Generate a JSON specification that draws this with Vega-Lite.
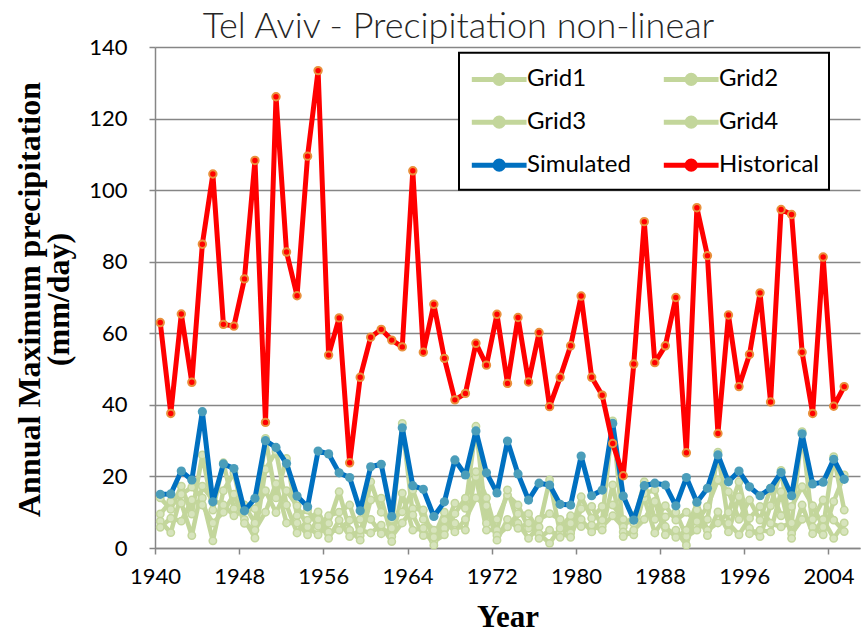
{
  "$schema": "https://vega.github.io/schema/vega-lite/v6.json",
  "autosize": "none",
  "width": 705,
  "height": 501,
  "padding": {"left": 155, "top": 47, "right": 3, "bottom": 85},
  "background": "white",
  "title": {
    "text": "Tel Aviv - Precipitation non-linear",
    "font": "Lato",
    "fontSize": 36,
    "fontWeight": 300,
    "color": "#262626",
    "anchor": "middle",
    "frame": "group",
    "baseline": "alphabetic",
    "offset": 10,
    "dx": -49,
    "dy": 48
  },
  "config": {
    "view": {"stroke": null},
    "axis": {
      "labelFont": "Lato",
      "labelFontSize": 22,
      "labelColor": "#000000",
      "domainColor": "#868686",
      "domainWidth": 1.5,
      "tickColor": "#868686",
      "tickWidth": 1.5,
      "gridColor": "#868686",
      "gridWidth": 1.5,
      "titleFont": "Liberation Serif",
      "titleFontWeight": "bold",
      "titleColor": "#000000"
    }
  },
  "data": {
    "values": [
      {"Year":1940,"Historical":63.0,"Simulated":15.0,"Grid1":14,"Grid2":9.5,"Grid3":7.5,"Grid4":5.8},
      {"Year":1941,"Historical":37.6,"Simulated":15.1,"Grid1":10.8,"Grid2":13,"Grid3":4.3,"Grid4":8.3},
      {"Year":1942,"Historical":65.4,"Simulated":21.5,"Grid1":17.3,"Grid2":12.5,"Grid3":15,"Grid4":7.5},
      {"Year":1943,"Historical":46.3,"Simulated":19.0,"Grid1":9.5,"Grid2":3.5,"Grid3":17,"Grid4":13.4},
      {"Year":1944,"Historical":84.9,"Simulated":38.1,"Grid1":26,"Grid2":17.3,"Grid3":14,"Grid4":12},
      {"Year":1945,"Historical":104.5,"Simulated":12.9,"Grid1":10.6,"Grid2":13.4,"Grid3":2,"Grid4":7},
      {"Year":1946,"Historical":62.5,"Simulated":23.5,"Grid1":23.8,"Grid2":12,"Grid3":16,"Grid4":10},
      {"Year":1947,"Historical":62.0,"Simulated":22.2,"Grid1":11,"Grid2":9,"Grid3":21,"Grid4":15},
      {"Year":1948,"Historical":75.2,"Simulated":10.4,"Grid1":12,"Grid2":10.6,"Grid3":8,"Grid4":6.9},
      {"Year":1949,"Historical":108.3,"Simulated":13.9,"Grid1":7,"Grid2":11,"Grid3":2.8,"Grid4":5},
      {"Year":1950,"Historical":35.1,"Simulated":30.0,"Grid1":30.6,"Grid2":16,"Grid3":22,"Grid4":10},
      {"Year":1951,"Historical":126.1,"Simulated":28.1,"Grid1":14,"Grid2":9.9,"Grid3":27,"Grid4":18},
      {"Year":1952,"Historical":82.7,"Simulated":23.6,"Grid1":25,"Grid2":16,"Grid3":12,"Grid4":7},
      {"Year":1953,"Historical":70.5,"Simulated":14.5,"Grid1":9,"Grid2":11.8,"Grid3":4.2,"Grid4":7},
      {"Year":1954,"Historical":109.5,"Simulated":11.5,"Grid1":10.6,"Grid2":5.9,"Grid3":7.8,"Grid4":3.7},
      {"Year":1955,"Historical":133.4,"Simulated":27.1,"Grid1":6.1,"Grid2":3.7,"Grid3":10.1,"Grid4":8},
      {"Year":1956,"Historical":53.9,"Simulated":26.3,"Grid1":9,"Grid2":6.9,"Grid3":4.5,"Grid4":2.7},
      {"Year":1957,"Historical":64.3,"Simulated":21.0,"Grid1":10,"Grid2":15.7,"Grid3":5,"Grid4":7.8},
      {"Year":1958,"Historical":23.8,"Simulated":19.7,"Grid1":12,"Grid2":5,"Grid3":7.8,"Grid4":3.2},
      {"Year":1959,"Historical":47.7,"Simulated":10.4,"Grid1":3.5,"Grid2":2.2,"Grid3":8,"Grid4":5},
      {"Year":1960,"Historical":58.9,"Simulated":22.7,"Grid1":18.5,"Grid2":13.4,"Grid3":8,"Grid4":4.2},
      {"Year":1961,"Historical":61.1,"Simulated":23.4,"Grid1":10,"Grid2":13.9,"Grid3":4,"Grid4":6.4},
      {"Year":1962,"Historical":58.1,"Simulated":8.8,"Grid1":8,"Grid2":3.2,"Grid3":5.5,"Grid4":1.8},
      {"Year":1963,"Historical":56.2,"Simulated":33.6,"Grid1":10.1,"Grid2":7,"Grid3":34.8,"Grid4":15.3},
      {"Year":1964,"Historical":105.4,"Simulated":17.4,"Grid1":16.2,"Grid2":11,"Grid3":9.2,"Grid4":5},
      {"Year":1965,"Historical":54.7,"Simulated":16.4,"Grid1":8,"Grid2":10.6,"Grid3":3.5,"Grid4":5.5},
      {"Year":1966,"Historical":68.1,"Simulated":8.8,"Grid1":5,"Grid2":1.8,"Grid3":3,"Grid4":0.8},
      {"Year":1967,"Historical":53.0,"Simulated":12.9,"Grid1":5.5,"Grid2":3.7,"Grid3":10,"Grid4":7.8},
      {"Year":1968,"Historical":41.4,"Simulated":24.6,"Grid1":12.5,"Grid2":9.6,"Grid3":6.9,"Grid4":4.5},
      {"Year":1969,"Historical":43.2,"Simulated":20.4,"Grid1":11.1,"Grid2":13.9,"Grid3":5,"Grid4":8},
      {"Year":1970,"Historical":57.2,"Simulated":32.7,"Grid1":34,"Grid2":19.9,"Grid3":21.3,"Grid4":14},
      {"Year":1971,"Historical":51.1,"Simulated":21.0,"Grid1":6.9,"Grid2":5,"Grid3":14,"Grid4":11.8},
      {"Year":1972,"Historical":65.3,"Simulated":15.4,"Grid1":8,"Grid2":5,"Grid3":3.5,"Grid4":2.2},
      {"Year":1973,"Historical":46.0,"Simulated":29.9,"Grid1":14.8,"Grid2":16.2,"Grid3":5.9,"Grid4":8},
      {"Year":1974,"Historical":64.4,"Simulated":20.7,"Grid1":12,"Grid2":6.9,"Grid3":9.6,"Grid4":5.5},
      {"Year":1975,"Historical":46.4,"Simulated":13.4,"Grid1":5.5,"Grid2":2.7,"Grid3":9.6,"Grid4":7},
      {"Year":1976,"Historical":60.2,"Simulated":18.1,"Grid1":8,"Grid2":5.9,"Grid3":4,"Grid4":2.7},
      {"Year":1977,"Historical":39.5,"Simulated":17.6,"Grid1":9.6,"Grid2":19,"Grid3":1.3,"Grid4":5},
      {"Year":1978,"Historical":47.7,"Simulated":12.2,"Grid1":8,"Grid2":4.2,"Grid3":5.5,"Grid4":3},
      {"Year":1979,"Historical":56.5,"Simulated":12.0,"Grid1":4.2,"Grid2":3,"Grid3":9,"Grid4":6.9},
      {"Year":1980,"Historical":70.4,"Simulated":25.7,"Grid1":14.3,"Grid2":11,"Grid3":8,"Grid4":6},
      {"Year":1981,"Historical":47.7,"Simulated":14.6,"Grid1":8.3,"Grid2":11.6,"Grid3":4.5,"Grid4":6.4},
      {"Year":1982,"Historical":42.7,"Simulated":16.2,"Grid1":11.6,"Grid2":6,"Grid3":7.8,"Grid4":5},
      {"Year":1983,"Historical":29.2,"Simulated":34.8,"Grid1":12,"Grid2":9,"Grid3":35.5,"Grid4":17.6},
      {"Year":1984,"Historical":20.2,"Simulated":14.5,"Grid1":8,"Grid2":5.9,"Grid3":4.5,"Grid4":3.2},
      {"Year":1985,"Historical":51.4,"Simulated":7.8,"Grid1":6.9,"Grid2":9,"Grid3":3.7,"Grid4":5},
      {"Year":1986,"Historical":91.2,"Simulated":17.4,"Grid1":18.5,"Grid2":13.9,"Grid3":15.3,"Grid4":8},
      {"Year":1987,"Historical":51.8,"Simulated":18.1,"Grid1":8,"Grid2":4.2,"Grid3":16.2,"Grid4":13},
      {"Year":1988,"Historical":56.5,"Simulated":17.6,"Grid1":11.8,"Grid2":8.7,"Grid3":6,"Grid4":3.7},
      {"Year":1989,"Historical":70.0,"Simulated":11.8,"Grid1":7.8,"Grid2":10,"Grid3":3,"Grid4":5},
      {"Year":1990,"Historical":26.6,"Simulated":19.7,"Grid1":10,"Grid2":3.2,"Grid3":5,"Grid4":0.8},
      {"Year":1991,"Historical":95.1,"Simulated":12.8,"Grid1":7.4,"Grid2":5,"Grid3":12.5,"Grid4":10.6},
      {"Year":1992,"Historical":81.7,"Simulated":16.7,"Grid1":11.6,"Grid2":8,"Grid3":5,"Grid4":3.5},
      {"Year":1993,"Historical":32.0,"Simulated":26.0,"Grid1":19,"Grid2":26.8,"Grid3":7,"Grid4":10.1},
      {"Year":1994,"Historical":65.1,"Simulated":18.5,"Grid1":15.7,"Grid2":6.9,"Grid3":10,"Grid4":4.5},
      {"Year":1995,"Historical":45.1,"Simulated":21.5,"Grid1":8,"Grid2":3.7,"Grid3":18.5,"Grid4":14.3},
      {"Year":1996,"Historical":54.1,"Simulated":17.1,"Grid1":13.4,"Grid2":8.3,"Grid3":5.5,"Grid4":4},
      {"Year":1997,"Historical":71.3,"Simulated":14.6,"Grid1":7.8,"Grid2":11.6,"Grid3":3.2,"Grid4":5},
      {"Year":1998,"Historical":40.8,"Simulated":16.7,"Grid1":16.7,"Grid2":6.9,"Grid3":11.8,"Grid4":4.5},
      {"Year":1999,"Historical":94.6,"Simulated":21.1,"Grid1":9,"Grid2":5.9,"Grid3":21.7,"Grid4":15.7},
      {"Year":2000,"Historical":93.2,"Simulated":14.6,"Grid1":11.6,"Grid2":7,"Grid3":4,"Grid4":2.7},
      {"Year":2001,"Historical":54.7,"Simulated":31.9,"Grid1":17.1,"Grid2":32.5,"Grid3":8,"Grid4":12},
      {"Year":2002,"Historical":37.6,"Simulated":17.9,"Grid1":11.8,"Grid2":5.9,"Grid3":8,"Grid4":4},
      {"Year":2003,"Historical":81.3,"Simulated":18.4,"Grid1":5.9,"Grid2":3.7,"Grid3":13.4,"Grid4":8},
      {"Year":2004,"Historical":39.6,"Simulated":24.8,"Grid1":25.5,"Grid2":13,"Grid3":7.8,"Grid4":2.7},
      {"Year":2005,"Historical":45.1,"Simulated":19.2,"Grid1":10.6,"Grid2":20.4,"Grid3":4.6,"Grid4":7}
    ]
  },
  "transform": [
    {"fold": ["Grid1", "Grid2", "Grid3", "Grid4", "Simulated", "Historical"], "as": ["series", "value"]}
  ],
  "encoding": {
    "x": {
      "field": "Year",
      "type": "quantitative",
      "scale": {"domain": [1939.5, 2006.5], "nice": false, "zero": false},
      "axis": {
        "values": [1939.5, 1947.5, 1955.5, 1963.5, 1971.5, 1979.5, 1987.5, 1995.5, 2003.5],
        "labelExpr": "format(datum.value + 0.5, 'd')",
        "labelFlush": false,
        "labelOverlap": false,
        "grid": false,
        "tickSize": 6,
        "labelPadding": 12,
        "title": "Year",
        "titleFontSize": 31,
        "titlePadding": 15
      }
    },
    "y": {
      "field": "value",
      "type": "quantitative",
      "scale": {"domain": [0, 140], "nice": false},
      "axis": {
        "values": [0, 20, 40, 60, 80, 100, 120, 140],
        "tickSize": 6,
        "labelPadding": 22,
        "labelFlush": false,
        "title": ["Annual Maximum precipitation", "(mm/day)"],
        "titleFontSize": 32,
        "titleLineHeight": 29,
        "titleAngle": 270,
        "titleAlign": "center",
        "titleBaseline": "middle",
        "titleX": -126,
        "titleY": 252
      }
    }
  },
  "layer": [
    {
      "transform": [{"filter": {"field": "series", "oneOf": ["Grid1", "Grid2", "Grid3", "Grid4"]}}],
      "mark": {"type": "line", "strokeWidth": 4.5, "strokeJoin": "round"},
      "encoding": {
        "color": {
          "field": "series",
          "type": "nominal",
          "scale": {
            "domain": ["Grid1", "Grid2", "Grid3", "Grid4", "Simulated", "Historical"],
            "range": ["#C3D69B", "#C3D69B", "#C3D69B", "#C3D69B", "#0070C0", "#FF0000"]
          },
          "legend": {
            "title": null,
            "orient": "none",
            "legendX": 304,
            "legendY": 5.7,
            "direction": "horizontal",
            "columns": 2,
            "columnPadding": 22,
            "rowPadding": 12,
            "padding": 10,
            "strokeColor": "#000000",
            "fillColor": "#FFFFFF",
            "labelFont": "Lato",
            "labelFontSize": 24,
            "labelColor": "#000000",
            "labelOffset": 25,
            "symbolType": "M-1,0L3,0M1.3,0A0.3,0.3,0,1,1,0.7,0A0.3,0.3,0,1,1,1.3,0",
            "symbolSize": 750,
            "symbolStrokeWidth": 5,
            "encode": {"legend": {"update": {"strokeWidth": {"value": 2}}}}
          }
        }
      }
    },
    {
      "transform": [{"filter": {"field": "series", "oneOf": ["Grid1", "Grid2", "Grid3", "Grid4"]}}],
      "mark": {"type": "point", "filled": true, "fill": "#D7E4BD", "stroke": "#C3D69B", "strokeWidth": 1.5, "size": 55, "opacity": 1},
      "encoding": {"detail": {"field": "series"}}
    },
    {
      "transform": [{"filter": {"field": "series", "equal": "Simulated"}}],
      "mark": {"type": "line", "strokeWidth": 5, "strokeJoin": "round"},
      "encoding": {"color": {"field": "series", "type": "nominal"}}
    },
    {
      "transform": [{"filter": {"field": "series", "equal": "Simulated"}}],
      "mark": {"type": "point", "filled": true, "fill": "#4A9DBA", "strokeWidth": 0, "size": 85, "opacity": 1},
      "encoding": {}
    },
    {
      "transform": [{"filter": {"field": "series", "equal": "Historical"}}],
      "mark": {"type": "line", "strokeWidth": 5, "strokeJoin": "round"},
      "encoding": {"color": {"field": "series", "type": "nominal"}}
    },
    {
      "transform": [{"filter": {"field": "series", "equal": "Historical"}}],
      "mark": {"type": "point", "filled": true, "fill": "#FF0000", "stroke": "#E9903C", "strokeWidth": 2, "size": 55, "opacity": 1},
      "encoding": {}
    }
  ]
}
